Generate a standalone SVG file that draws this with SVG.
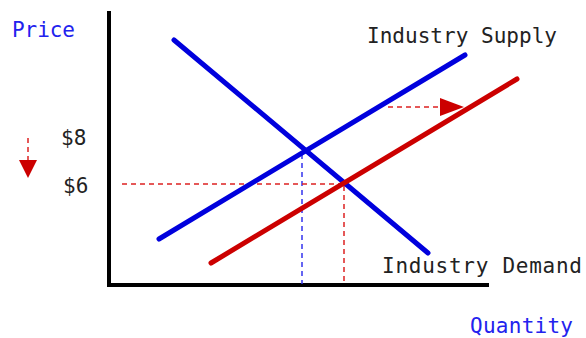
<svg xmlns="http://www.w3.org/2000/svg" width="586" height="338" viewBox="0 0 586 338">
<style>
text{font-family:"DejaVu Sans Mono","Liberation Mono",monospace;font-size:21px}
.lab{fill:#222}
.ax{fill:#2222ee}
.curve{stroke-width:5;stroke-linecap:round;fill:none}
.dash{stroke-width:1.5;stroke-dasharray:5,4;fill:none}
</style>
<rect width="586" height="338" fill="#fff"/>
<g id="axes">
<line x1="109" y1="11" x2="109" y2="287" stroke="#000" stroke-width="4"/>
<line x1="107" y1="285" x2="489" y2="285" stroke="#000" stroke-width="4"/>
</g>
<g id="connectors">
<line class="dash" x1="302" y1="154" x2="302" y2="284" stroke="#3333ee"/>
<line class="dash" x1="122" y1="184" x2="343" y2="184" stroke="#dd2222"/>
<line class="dash" x1="344" y1="186" x2="344" y2="284" stroke="#dd2222"/>
<line class="dash" x1="388" y1="107" x2="440" y2="107" stroke="#dd2222"/>
<polygon points="440,98 440,116 464,107" fill="#cc0000"/>
<line class="dash" x1="28" y1="138" x2="28" y2="162" stroke="#dd2222"/>
<polygon points="19,160 37,160 28,178" fill="#cc0000"/>
</g>
<g id="demand"><line class="curve" x1="174" y1="40" x2="428" y2="253" stroke="#0000dd"/></g>
<g id="supply"><line class="curve" x1="159" y1="239" x2="465" y2="55" stroke="#0000dd"/></g>
<g id="supply2"><line class="curve" x1="211" y1="263" x2="517" y2="79" stroke="#cc0000"/></g>
<g id="labels">
<text class="ax" x="12" y="37" textLength="63" lengthAdjust="spacing">Price</text>
<text class="ax" x="470" y="333" textLength="103" lengthAdjust="spacing">Quantity</text>
<text class="lab" x="367" y="43" textLength="190" lengthAdjust="spacing">Industry Supply</text>
<text class="lab" x="382" y="273" textLength="200" lengthAdjust="spacing">Industry Demand</text>
<text class="lab" x="61" y="145">$8</text>
<text class="lab" x="63" y="193">$6</text>
</g>
</svg>
